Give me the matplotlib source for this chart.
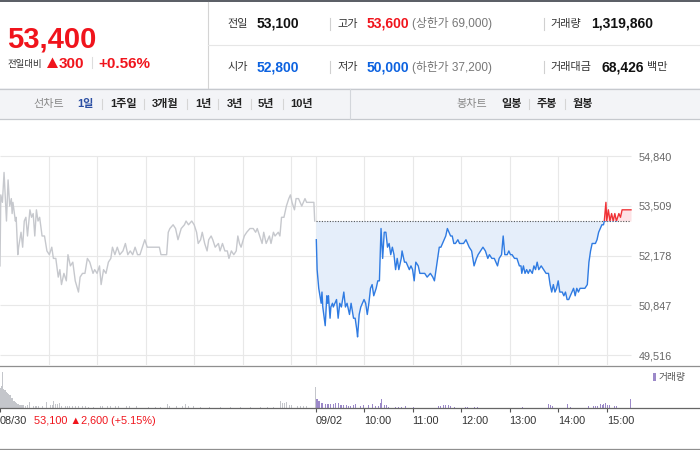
import matplotlib
matplotlib.use('Agg')
import matplotlib.pyplot as plt
from matplotlib.patches import Rectangle, Polygon
import numpy as np

plt.rcParams['font.family'] = ['Liberation Sans', 'Noto Sans CJK KR', 'DejaVu Sans']
KR = ['Noto Sans CJK KR', 'DejaVu Sans']
NUM = ['Liberation Sans', 'Noto Sans CJK KR', 'DejaVu Sans']

# ------------------------------------------------------------------ data
current_price = "53,400"
change_abs = "300"
change_pct = "+0.56%"
prev_close = 53100

row1_labels = ["전일", "고가", "거래량"]
row1_values = ["53,100", "53,600", "1,319,860"]
row2_labels = ["시가", "저가", "거래대금"]
row2_values = ["52,800", "50,000", "68,426"]
limit_up_text = "(상한가 69,000)"
limit_down_text = "(하한가 37,200)"
amount_unit = "백만"

line_tabs = ["1일", "1주일", "3개월", "1년", "3년", "5년", "10년"]
candle_tabs = ["일봉", "주봉", "월봉"]

price_ticks = [54840, 53509, 52178, 50847, 49516]
grid_minutes = [60, 120, 180, 240, 300, 360, 390, 450, 510, 570, 630, 690, 750]
time_tick_min = [0, 390, 450, 510, 570, 630, 690, 750]
time_tick_labels = ['08/30', '09/02', '10:00', '11:00', '12:00', '13:00', '14:00', '15:00']
prev_day_summary = "53,100 \u25b22,600 (+5.15%)"

# day 1 (08/30) minutes since 09:00, prices
day1_min = [0, 1, 3, 5, 8, 10, 12, 14, 15, 16,
            19, 20, 22, 23, 26, 28, 30, 32, 34, 37,
            39, 41, 43, 45, 47, 49, 52, 55, 58, 61,
            64, 66, 69, 72, 74, 76, 79, 82, 84, 87,
            90, 93, 97, 99, 102, 105, 108, 111, 115, 117,
            120, 123, 125, 128, 131, 134, 137, 139, 142, 145,
            148, 152, 155, 158, 161, 164, 167, 170, 173, 176,
            179, 182, 185, 190, 194, 197, 199, 203, 206, 208,
            210, 214, 217, 220, 224, 228, 230, 233, 237, 240,
            243, 245, 248, 250, 253, 256, 258, 261, 263, 266,
            270, 272, 275, 278, 281, 283, 286, 289, 292, 294,
            296, 298, 302, 305, 309, 313, 316, 318, 321, 324,
            326, 329, 333, 335, 338, 340, 344, 346, 348, 351,
            354, 357, 359, 361, 364, 366, 369, 371, 373, 377,
            379, 383, 388, 389]
day1_price = [51900, 53800, 53600, 54400, 53100, 54200, 53500, 53700, 53300, 53600,
              53100, 53200, 52200, 52400, 52800, 52400, 53100, 53200, 52700, 53400,
              53200, 53300, 52700, 53400, 53100, 53200, 52700, 52700, 52300, 52200,
              52400, 52100, 52100, 51600, 51800, 51400, 51700, 51500, 52200, 51900,
              52000, 51500, 51200, 51600, 51700, 51700, 52100, 52000, 51700, 51800,
              51700, 51900, 51400, 51800, 51700, 52000, 52100, 52400, 52200, 52400,
              52200, 52300, 52500, 52200, 52300, 52200, 52400, 52200, 52200, 52400,
              52600, 52400, 52400, 52400, 52400, 52400, 52200, 52200, 52200, 52800,
              52900, 53000, 52900, 52600, 52900, 53000, 53100, 53000, 53100, 53000,
              52800, 52500, 52600, 52800, 52500, 52300, 52600, 52700, 52600, 52400,
              52500, 52300, 52500, 52300, 52300, 52100, 52300, 52200, 52300, 52700,
              52500, 52400, 52700, 52800, 52900, 52900, 52800, 52900, 52700, 52500,
              52800, 52500, 52700, 52500, 52800, 52700, 52800, 52700, 53200, 53200,
              53500, 53700, 53800, 53600, 53400, 53700, 53700, 53600, 53500, 53700,
              53600, 53600, 53600, 53100]

# day 2 (09/02) minutes since 08/30 09:00 (390 = 09/02 09:00)
day2_min = [391, 392, 394, 397, 398, 399, 402, 404, 405, 406,
            408, 409, 411, 412, 414, 416, 418, 420, 422, 425,
            427, 429, 432, 434, 437, 439, 441, 442, 444, 446,
            448, 450, 452, 454, 456, 458, 460, 462, 465, 467,
            469, 471, 473, 475, 477, 479, 481, 483, 485, 487,
            489, 491, 493, 496, 497, 500, 502, 504, 506, 508,
            510, 512, 514, 517, 519, 522, 525, 528, 532, 535,
            537, 539, 541, 543, 545, 547, 549, 551, 553, 555,
            557, 559, 561, 563, 566, 568, 570, 573, 576, 578,
            580, 583, 586, 589, 591, 594, 597, 600, 603, 605,
            608, 611, 613, 615, 617, 620, 622, 624, 627, 629,
            631, 633, 636, 639, 642, 644, 645, 647, 649, 651,
            653, 655, 658, 660, 662, 664, 666, 669, 672, 675,
            678, 680, 682, 684, 686, 688, 690, 692, 695, 697,
            699, 701, 703, 705, 707, 709, 711, 713, 715, 717,
            719, 721, 723, 726, 728, 730, 732, 734, 736, 738,
            740, 742, 744, 746, 747, 749, 750, 752, 754, 756,
            758, 760, 762, 765, 767, 769, 780]
day2_price = [52600, 51800, 51300, 50900, 51200, 50800, 50300, 51100, 50900, 51100,
              50500, 50800, 50900, 50800, 50900, 51000, 50500, 50900, 50800, 51200,
              50800, 50900, 50600, 50900, 50500, 50500, 50200, 50000, 50600, 50800,
              50900, 51000, 50900, 50600, 50900, 51300, 51400, 51100, 51300, 51500,
              51500, 52900, 52100, 52800, 52800, 52400, 52500, 52200, 52400, 52200,
              51800, 52100, 51800, 52100, 52300, 52000, 52000, 51900, 51800, 51900,
              51800, 51500, 52000, 51900, 51700, 51700, 51700, 51600, 51700, 51600,
              51500, 51800, 52100, 52400, 52400, 52500, 52600, 52700, 52900, 52800,
              52700, 52700, 52500, 52500, 52600, 52500, 52500, 52500, 52600, 52500,
              52400, 52300, 51900, 52100, 52200, 52300, 52400, 52300, 52100, 52200,
              52100, 52100, 52000, 51900, 52100, 52200, 52700, 52200, 52200, 52300,
              52200, 52200, 52100, 52100, 51900, 51900, 51700, 51900, 51700, 51800,
              51700, 51800, 51700, 51900, 51800, 52000, 51800, 51900, 51800, 51700,
              51700, 51400, 51200, 51400, 51200, 51300, 51500, 51200, 51200, 51100,
              51200, 51000, 51000, 51100, 51200, 51300, 51100, 51300, 51200, 51300,
              51300, 51300, 51300, 51400, 52000, 52300, 52500, 52500, 52500, 52600,
              52800, 52900, 53000, 53000, 53100, 53600, 53100, 53400, 53100, 53300,
              53100, 53300, 53100, 53300, 53200, 53400, 53400]

# volumes (shares per minute)
vol1_min = [0, 1, 2, 3, 4, 5, 6, 7, 8, 9,
            10, 11, 12, 13, 14, 15, 16, 17, 18, 19,
            20, 21, 22, 23, 24, 25, 26, 27, 29, 31,
            33, 36, 39, 41, 43, 45, 47, 49, 52, 54,
            57, 60, 62, 64, 66, 68, 71, 73, 76, 80,
            83, 85, 89, 93, 97, 101, 105, 109, 115, 124,
            126, 132, 136, 142, 146, 156, 160, 168, 175, 183,
            192, 198, 207, 209, 212, 218, 225, 229, 233, 239,
            247, 258, 272, 284, 297, 309, 322, 330, 338, 346,
            349, 351, 354, 357, 360, 363, 367, 371, 375, 378,
            389]
vol1_qty = [40000, 44000, 42000, 73000, 38000, 36000, 36000, 36000, 32000, 30000,
            28000, 26000, 26000, 22000, 20000, 20000, 14000, 14000, 14000, 12000,
            10000, 8000, 8000, 8000, 6000, 6000, 6000, 6000, 6000, 4000,
            6000, 12000, 4000, 4000, 4000, 4000, 4000, 4000, 4000, 4000,
            12000, 6000, 6000, 6000, 14000, 8000, 8000, 10000, 4000, 4000,
            4000, 4000, 4000, 4000, 4000, 4000, 4000, 2000, 2000, 4000,
            4000, 4000, 4000, 4000, 4000, 4000, 4000, 4000, 2000, 2000,
            2000, 2000, 8000, 4000, 4000, 4000, 4000, 8000, 4000, 4000,
            2000, 2000, 2000, 2000, 2000, 2000, 2000, 2000, 2000, 14000,
            10000, 10000, 12000, 6000, 6000, 6000, 4000, 4000, 4000, 4000,
            42000]
vol2_min = [390, 391, 392, 393, 394, 395, 397, 398, 400, 402,
            404, 406, 408, 410, 412, 414, 416, 418, 420, 422,
            424, 426, 428, 430, 433, 436, 439, 442, 445, 449,
            452, 455, 458, 460, 464, 467, 470, 471, 473, 475,
            477, 480, 484, 488, 492, 496, 501, 511, 515, 542,
            544, 548, 550, 552, 554, 556, 561, 575, 577, 586,
            590, 615, 620, 636, 641, 645, 678, 680, 682, 701,
            705, 709, 727, 730, 733, 736, 738, 740, 742, 744,
            746, 748, 750, 753, 756, 759, 762, 766, 779]
vol2_qty = [25000, 18000, 18000, 14000, 14000, 14000, 10000, 10000, 10000, 8000,
            8000, 8000, 8000, 6000, 8000, 10000, 6000, 10000, 6000, 6000,
            6000, 4000, 6000, 4000, 4000, 6000, 8000, 4000, 4000, 6000,
            4000, 6000, 4000, 8000, 4000, 4000, 10000, 18000, 6000, 6000,
            6000, 3000, 3000, 3000, 3000, 3000, 4000, 3000, 3000, 4000,
            4000, 6000, 6000, 8000, 6000, 4000, 3000, 3000, 3000, 3000,
            3000, 3000, 3000, 3000, 3000, 3000, 8000, 6000, 4000, 8000,
            3000, 3000, 4000, 4000, 4000, 4000, 4000, 6000, 8000, 6000,
            8000, 11000, 6000, 6000, 5000, 5000, 5000, 5000, 18000]

# ------------------------------------------------------------------ style
RED = '#f0141c'
BLUE = '#0c62e0'
LINE_BLUE = '#2f7be2'
FILL_BLUE = '#e5eefa'
LINE_RED = '#f03236'
FILL_RED = '#fde2e5'
GRAY_LINE = '#c6c8cd'
GRID = '#e8e8e8'

W, H = 700, 450
fig = plt.figure(figsize=(W / 100, H / 100), dpi=100)
fig.patch.set_facecolor('white')


def fy(py):
    return 1 - py / H


# ---------------------------------------------------------------- background / header
bg = fig.add_axes([0, 0, 1, 1], zorder=0)
bg.set_xlim(0, W)
bg.set_ylim(H, 0)
bg.axis('off')

bg.add_patch(Rectangle((0, 0), W, 2.2, color='#5c6067', lw=0))
bg.plot([208, 208], [2, 88], color='#d4d4d4', lw=0.8)
bg.plot([208, W], [45, 45], color='#e6e6e6', lw=0.8)

bg.text(7, 47, current_price, fontsize=21, fontweight='bold', color=RED, family=NUM, va='baseline')
bg.text(7, 67, "전일대비", fontsize=6.8, color='#333333', family=KR, va='baseline')
bg.add_patch(Polygon([(47, 68), (52.5, 57.5), (58, 68)], closed=True, color=RED, lw=0))
bg.text(59, 68, change_abs, fontsize=11, fontweight='bold', color=RED, family=NUM, va='baseline')
bg.plot([92, 92], [57, 68], color='#dddddd', lw=0.8)
bg.text(98, 68, change_pct, fontsize=11, fontweight='bold', color=RED, family=NUM, va='baseline')

label_x = [227, 337, 550]
value_x = [257, 367, 591]
row_y = [24, 67]
row1_colors = ['#111111', RED, '#111111']
row2_colors = ['#111111', BLUE, '#111111']
for lab, val, lx, vx, c in zip(row1_labels, row1_values, label_x, value_x, row1_colors):
    bg.text(lx, row_y[0], lab, fontsize=8, color='#333333', family=KR, va='center')
    bg.text(vx, row_y[0], val, fontsize=10, fontweight='bold', color=c, family=NUM, va='center')
value_x2 = [257, 367, 602]
row2_colors = [BLUE, BLUE, '#111111']
for lab, val, lx, vx, c in zip(row2_labels, row2_values, label_x, value_x2, row2_colors):
    bg.text(lx, row_y[1], lab, fontsize=8, color='#333333', family=KR, va='center')
    bg.text(vx, row_y[1], val, fontsize=10, fontweight='bold', color=c, family=NUM, va='center')
bg.text(412, row_y[0], limit_up_text, fontsize=8.5, color='#777777', family=NUM, va='center')
bg.text(412, row_y[1], limit_down_text, fontsize=8.5, color='#777777', family=NUM, va='center')
bg.text(647, row_y[1], amount_unit, fontsize=8, color='#333333', family=KR, va='center')
for ry in row_y:
    for sx in (330, 544):
        bg.plot([sx, sx], [ry - 6, ry + 6], color='#d0d0d0', lw=0.8)

# tab bar
bg.add_patch(Rectangle((0, 88), W, 31, facecolor='#f3f4f7', edgecolor='none'))
bg.plot([0, W], [88.5, 88.5], color='#c6c9ce', lw=0.9)
bg.plot([0, W], [119, 119], color='#c6c9ce', lw=0.9)
bg.plot([350, 350], [89, 119], color='#d3d6db', lw=0.8)
tab_y = 104
bg.text(33, tab_y, "선차트", fontsize=8, color='#888888', family=KR, va='center')
tab_x = [77, 110, 152, 195, 227, 258, 290]
sep_x = [102, 144, 187, 218, 251, 283]
for i, (t, x) in enumerate(zip(line_tabs, tab_x)):
    bg.text(x, tab_y, t, fontsize=8, fontweight='bold',
            color='#2c4fa3' if i == 0 else '#222222', family=NUM, va='center')
for x in sep_x + [529, 565]:
    bg.plot([x, x], [99, 109], color='#d5d5d5', lw=0.8)
bg.text(456, tab_y, "봉차트", fontsize=8, color='#888888', family=KR, va='center')
for t, x in zip(candle_tabs, [501, 537, 573]):
    bg.text(x, tab_y, t, fontsize=8, fontweight='bold', color='#222222', family=KR, va='center')

# panel borders
bg.plot([0, W], [365.5, 365.5], color='#8f8f8f', lw=0.9)
bg.plot([0, W], [449, 449], color='#8f8f8f', lw=0.9)

# volume legend & previous-day summary
bg.add_patch(Rectangle((653, 373), 3, 8, color='#9c89c9', lw=0))
bg.text(659, 377, "거래량", fontsize=7, color='#555555', family=KR, va='center')
bg.text(34, 421, prev_day_summary, fontsize=7.8, color=RED, family=NUM, va='center')

# ---------------------------------------------------------------- price panel
ppx = (price_ticks[0] - price_ticks[-1]) / (355 - 156)   # price per pixel
y_top = price_ticks[0]
y_bot = price_ticks[0] - (365 - 156) * ppx
ax = fig.add_axes([0, fy(365), 631 / W, (365 - 156) / H], zorder=2)
ax.set_facecolor('none')
ax.set_xlim(0, 780)
ax.set_ylim(y_bot, y_top + 0.01)
for s in ax.spines.values():
    s.set_visible(False)
ax.hlines(price_ticks, 0, 780, color=GRID, lw=0.8, zorder=0, clip_on=False)
ax.vlines(grid_minutes, y_bot, y_top, color=GRID, lw=0.8, zorder=0)

ax.yaxis.tick_right()
ax.set_yticks(price_ticks)
ax.set_yticklabels([f"{v:,}" for v in price_ticks])
ax.tick_params(axis='y', length=0, pad=5.8, labelsize=7.8, labelcolor='#666666')
ax.set_xticks([])

t1 = np.array(day1_min)
p1 = np.array(day1_price)
t2 = np.array(day2_min)
p2 = np.array(day2_price)

ax.plot(t1, p1, color=GRAY_LINE, lw=1.0, zorder=3)

ax.fill_between(t2, p2, prev_close, where=p2 <= prev_close, interpolate=True,
                color=FILL_BLUE, lw=0, zorder=1)
ax.fill_between(t2, p2, prev_close, where=p2 >= prev_close, interpolate=True,
                color=FILL_RED, lw=0, zorder=1)
ax.hlines(prev_close, 390, 780, colors='#555555', linestyles=(0, (1, 1.4)), lw=0.8, zorder=2)

lb, = ax.plot(t2, p2, color=LINE_BLUE, lw=1.0, zorder=3)
clip_b = Rectangle((380, y_bot - 1000), 420, prev_close - y_bot + 1000, transform=ax.transData)
lb.set_clip_path(clip_b)
lr, = ax.plot(t2, p2, color=LINE_RED, lw=1.0, zorder=3)
clip_r = Rectangle((380, prev_close), 420, 5000, transform=ax.transData)
lr.set_clip_path(clip_r)

# ---------------------------------------------------------------- volume panel
axv = fig.add_axes([0, fy(408), 1, (408 - 366) / H], zorder=2)
axv.set_facecolor('none')
axv.set_xlim(0, 780 * W / 631)
axv.set_ylim(0, 84000)
for k in ('top', 'right', 'left'):
    axv.spines[k].set_visible(False)
axv.spines['bottom'].set_color('#666666')
axv.spines['bottom'].set_linewidth(0.9)
axv.bar(vol1_min, vol1_qty, width=1.0, align='edge', color='#c4c6cb', lw=0)
axv.bar(vol2_min, vol2_qty, width=1.0, align='edge', color='#9c89c9', lw=0)
axv.set_yticks([])
axv.set_xticks(time_tick_min)
axv.set_xticklabels(time_tick_labels)
axv.tick_params(axis='x', direction='out', length=3, width=0.8, color='#555555',
                pad=3, labelsize=7.8, labelcolor='#333333')
for lab in axv.get_xticklabels():
    lab.set_horizontalalignment('left')
    lab.set_family(NUM)

fig.savefig('out.png', dpi=100, facecolor='white')
